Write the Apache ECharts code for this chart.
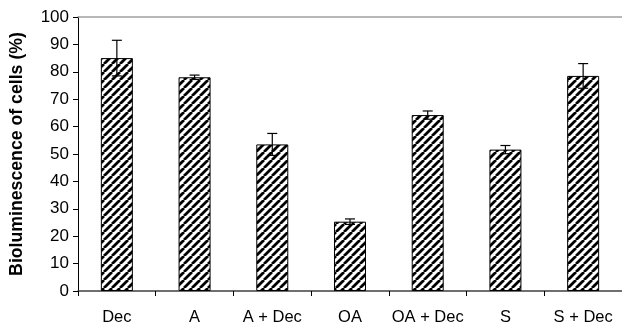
<!DOCTYPE html>
<html>
<head>
<meta charset="utf-8">
<script src="https://cdn.jsdelivr.net/npm/echarts@6/dist/echarts.min.js"></script>
<style>
  html, body { margin: 0; padding: 0; background: #fff; }
  #chart { width: 622px; height: 326px; }
</style>
</head>
<body>
<div id="chart"></div>
<script>
// Treatments, mean bioluminescence and standard deviation
const categories = ['Dec', 'A', 'A + Dec', 'OA', 'OA + Dec', 'S', 'S + Dec'];
const meanValues = [85, 78, 53.5, 25.3, 64.2, 51.6, 78.5];
const errValues = [6.5, 0.8, 4, 1, 1.5, 1.5, 4.5];
const yTicks = [0, 10, 20, 30, 40, 50, 60, 70, 80, 90, 100];

// Diagonal hatch fill
function makeHatch() {
  const size = 8;
  const c = document.createElement('canvas');
  c.width = size; c.height = size;
  const g = c.getContext('2d');
  g.fillStyle = '#fff';
  g.fillRect(0, 0, size, size);
  g.strokeStyle = '#000';
  g.lineWidth = 2.8;
  g.beginPath();
  for (let k = -1; k <= 1; k++) {
    g.moveTo(k * size, size);
    g.lineTo(k * size + size, 0);
  }
  g.stroke();
  return c;
}

const FONT = '"Liberation Sans", Arial, sans-serif';
const chart = echarts.init(document.getElementById('chart'), null, { renderer: 'canvas' });

chart.setOption({
  animation: false,
  grid: { left: 77, top: 17, width: 548, height: 277, containLabel: false },
  xAxis: [{
    type: 'category',
    data: categories,
    boundaryGap: true,
    axisLine: { lineStyle: { color: '#404040', width: 1.5 } },
    axisTick: { show: true, length: 5, inside: false, lineStyle: { color: '#000' } },
    axisLabel: { color: '#000', fontFamily: FONT, fontSize: 16.5, margin: 18, interval: 0 }
  }, {
    type: 'category',
    position: 'top',
    data: categories,
    axisLine: { show: true, lineStyle: { color: '#a0a0a0', width: 1.5 } },
    axisTick: { show: false },
    axisLabel: { show: false }
  }],
  yAxis: {
    type: 'value',
    min: 0, max: 100, interval: 10,
    name: 'Bioluminescence of cells (%)',
    nameLocation: 'middle',
    nameGap: 52,
    nameTextStyle: { color: '#000', fontFamily: FONT, fontSize: 17.7, fontWeight: 'bold' },
    axisLine: { show: true, lineStyle: { color: '#000', width: 1 } },
    axisTick: { show: true, length: 5, lineStyle: { color: '#000' } },
    axisLabel: {
      color: '#000', fontFamily: FONT, fontSize: 17, margin: 9,
      formatter: v => (yTicks.includes(v) ? String(v) : '')
    },
    splitLine: { show: false }
  },
  series: [{
    type: 'bar',
    data: meanValues,
    barWidth: 32,
    itemStyle: {
      color: { image: makeHatch(), repeat: 'repeat' },
      borderColor: '#000',
      borderWidth: 1
    }
  }, {
    type: 'custom',
    data: meanValues.map((v, i) => [i, v - errValues[i], v + errValues[i]]),
    renderItem: function (params, api) {
      const x = api.value(0);
      const lo = api.coord([x, api.value(1)]);
      const hi = api.coord([x, api.value(2)]);
      const hw = 5;
      const style = { stroke: '#000', lineWidth: 1.2 };
      return {
        type: 'group',
        children: [
          { type: 'line', shape: { x1: hi[0], y1: hi[1], x2: lo[0], y2: lo[1] }, style: style },
          { type: 'line', shape: { x1: hi[0] - hw, y1: hi[1], x2: hi[0] + hw, y2: hi[1] }, style: style },
          { type: 'line', shape: { x1: lo[0] - hw, y1: lo[1], x2: lo[0] + hw, y2: lo[1] }, style: style }
        ]
      };
    },
    z: 5
  }]
});
</script>
</body>
</html>
